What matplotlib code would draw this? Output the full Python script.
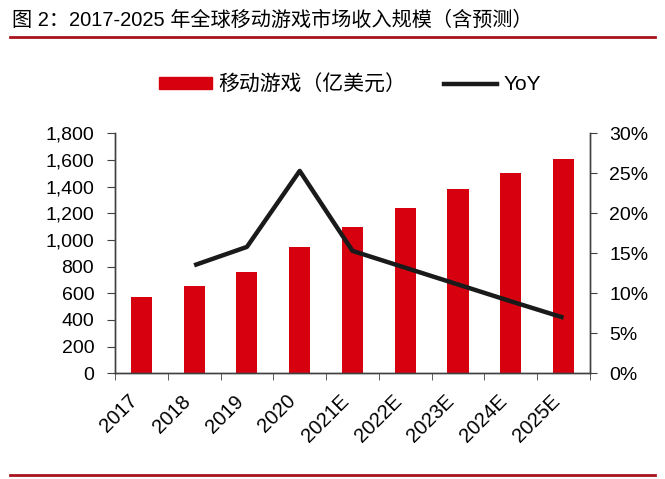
import numpy as np
import matplotlib.pyplot as plt
import matplotlib.transforms as mtransforms
from matplotlib.ticker import FuncFormatter, FixedLocator
from matplotlib.lines import Line2D

plt.rcParams['font.family'] = ['Liberation Sans', 'Noto Sans CJK SC', 'DejaVu Sans']

# data
years = ['2017', '2018', '2019', '2020', '2021E', '2022E', '2023E', '2024E', '2025E']
revenue = [575, 655, 757, 950, 1095, 1240, 1380, 1502, 1605]   # 亿美元
yoy_years = years[1:]
yoy = [13.5, 15.8, 25.3, 15.3, 13.2, 11.1, 9.0, 6.95]          # %

title = '图 2：2017-2025 年全球移动游戏市场收入规模（含预测）'
bar_label = '移动游戏（亿美元）'
line_label = 'YoY'

red = '#D7000F'
dark_red = '#A8141B'
spine_c = '#404040'

fig = plt.figure(figsize=(6.65, 4.79), dpi=100)
ax = fig.add_axes([0.1729, 0.2207, 0.7143, 0.5010])
ax2 = ax.twinx()

x = np.arange(len(years))
ax.bar(x, revenue, width=0.4, color=red, zorder=2)
ax2.plot(x[1:], yoy, color='#1a1a1a', lw=3.2, solid_capstyle='butt', zorder=3)

ax.set_xlim(-0.5, len(years) - 0.5)
ax.set_ylim(0, 1800)
ax.set_yticks(np.arange(0, 1801, 200))
ax.yaxis.set_major_formatter(FuncFormatter(lambda v, p: f'{v:,.0f}'))
ax2.set_ylim(0, 30)
ax2.set_yticks(np.arange(0, 31, 5))
ax2.yaxis.set_major_formatter(FuncFormatter(lambda v, p: f'{v:.0f}%'))

ax.set_xticks(x)
ax.set_xticklabels(years, rotation=45, ha='right', rotation_mode='default')
shift = mtransforms.ScaledTranslation(4 / 100, 0, fig.dpi_scale_trans)
for lab in ax.get_xticklabels():
    lab.set_transform(lab.get_transform() + shift)
ax.xaxis.set_minor_locator(FixedLocator(np.arange(-0.5, len(years), 1)))
ax.tick_params(axis='x', which='major', length=0, pad=13, labelsize=14.5)
ax.tick_params(axis='x', which='minor', length=5, color=spine_c, direction='out')
ax.tick_params(axis='y', length=6, pad=9, labelsize=14, color=spine_c, direction='out')
ax2.tick_params(axis='y', length=5, pad=9, labelsize=14, color=spine_c, direction='out')

for a in (ax, ax2):
    a.spines['top'].set_visible(False)
    for s in ('left', 'right', 'bottom'):
        a.spines[s].set_color(spine_c)
        a.spines[s].set_linewidth(1.0)

handles = [plt.Rectangle((0, 0), 1, 1, color=red),
           Line2D([0], [0], color='#1a1a1a', lw=3.2)]
fig.legend(handles, [bar_label, line_label], loc='center', ncol=2,
           bbox_to_anchor=(0.526, 0.824), frameon=False, fontsize=15,
           handlelength=2.55, handleheight=0.5, handletextpad=0.3, columnspacing=1.8)

fig.text(0.018, 0.958, title, fontsize=14.5, va='center', ha='left')
fig.add_artist(Line2D([0.015, 0.985], [0.922, 0.922], color=dark_red, lw=2, transform=fig.transFigure))
fig.add_artist(Line2D([0.015, 0.985], [0.008, 0.008], color=dark_red, lw=2, transform=fig.transFigure))

fig.savefig('out.png', dpi=100)
